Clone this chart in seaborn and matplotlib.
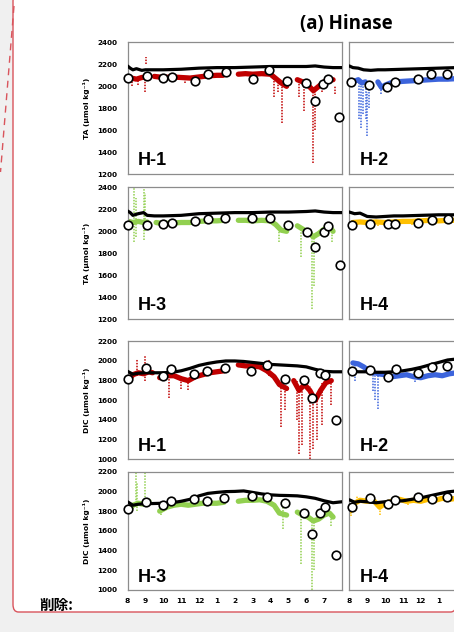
import matplotlib
matplotlib.use('Agg')
import matplotlib.pyplot as plt
from matplotlib.patches import FancyBboxPatch
from matplotlib.lines import Line2D
import pandas as pd
import seaborn as sns

# month axis: 0 = start of August, 12 = end of July
month_ticks = list(range(12))
month_labels = ['8', '9', '10', '11', '12', '1', '2', '3', '4', '5', '6', '7']

# ---------- TA, H-1 (red) ----------
h1_ta_model_x = [0, 0.15, 0.3, 0.5, 0.8, 1.0, 1.3, 2, 3, 4, 5, 6, 7, 8, 9, 10, 10.5, 11, 11.5, 12]
h1_ta_model_y = [2185, 2165, 2150, 2160, 2145, 2150, 2150, 2150, 2155, 2165, 2170, 2170, 2175, 2180,
                 2180, 2180, 2185, 2175, 2170, 2170]
h1_ta_segs = [
    ([0.2, 0.5, 0.8, 1.05], [2075, 2065, 2080, 2085]),
    ([1.5, 2.0, 2.5, 3.0, 3.5, 4.0, 4.5, 5.0, 5.35], [2090, 2080, 2085, 2080, 2075, 2085, 2095, 2100, 2100]),
    ([6.2, 6.6, 7.0, 7.5, 8.0, 8.3, 8.6, 8.9], [2110, 2115, 2110, 2115, 2110, 2070, 2030, 2000]),
    ([9.5, 9.8, 10.1, 10.4, 10.7, 11.0, 11.3, 11.5], [2060, 2040, 2010, 1960, 2000, 2040, 2060, 2060]),
]
h1_ta_spikes = [(0.25, 2000, 2090), (0.6, 2010, 2080), (1.0, 1950, 2080), (1.05, 2200, 2270),
                (2.0, 2030, 2080), (3.2, 2030, 2070), (8.2, 1900, 2090), (8.4, 1950, 2080),
                (8.65, 1670, 2020), (9.6, 1900, 2050), (9.9, 1780, 2030), (10.35, 1300, 1990),
                (10.5, 1600, 1980), (10.9, 1950, 2040), (11.6, 1930, 2000)]
h1_ta_obs_x = [0.05, 1.07, 2.0, 2.49, 3.77, 4.52, 5.49, 7.0, 7.92, 8.95, 10.0, 10.5, 10.96, 11.22, 11.85]
h1_ta_obs_y = [2075, 2090, 2075, 2085, 2050, 2110, 2130, 2070, 2145, 2050, 2030, 1870, 2020, 2070, 1720]

# ---------- TA, H-2 (blue) ----------
h2_ta_model_x = [0, 0.2, 0.5, 0.8, 1.2, 1.6, 2.0, 3, 4, 5, 6, 7, 8, 9, 10, 11, 12]
h2_ta_model_y = [2185, 2170, 2165, 2150, 2145, 2150, 2150, 2155, 2160, 2165, 2170, 2170, 2170, 2175,
                 2175, 2170, 2170]
h2_ta_segs = [
    ([0.35, 0.5, 0.7, 0.9], [2050, 2060, 2030, 2040]),
    ([1.6, 1.8, 2.0, 2.3, 2.6, 3.0, 3.5, 4.0, 4.5, 5.0, 5.5, 6.0],
     [2040, 1990, 2010, 2030, 2040, 2045, 2050, 2055, 2060, 2065, 2065, 2070]),
]
h2_ta_spikes = [(0.55, 1700, 2040), (0.65, 1620, 2030), (0.75, 1750, 2000), (0.95, 1700, 2000),
                (1.0, 1550, 1950), (1.1, 1800, 1980), (1.75, 1930, 2030), (2.0, 1960, 2030)]
h2_ta_obs_x = [0.1, 1.13, 2.1, 2.53, 3.85, 4.56, 5.47]
h2_ta_obs_y = [2041, 2012, 1994, 2041, 2063, 2108, 2108]

# ---------- TA, H-3 (green) ----------
h3_ta_model_x = [0, 0.15, 0.3, 0.6, 0.9, 1.1, 1.5, 2, 3, 4, 5, 6, 7, 8, 9, 10, 10.5, 11, 11.5, 12]
h3_ta_model_y = [2185, 2170, 2145, 2160, 2170, 2145, 2140, 2140, 2145, 2160, 2165, 2170, 2170, 2175,
                 2175, 2180, 2185, 2175, 2170, 2170]
h3_ta_segs = [
    ([0.05, 0.3, 0.6, 0.9, 1.1], [2090, 2080, 2090, 2080, 2085]),
    ([1.6, 2.0, 2.5, 3.0, 3.5, 4.0, 4.5, 5.0, 5.4], [2080, 2070, 2075, 2080, 2080, 2090, 2095, 2095, 2100]),
    ([6.2, 6.6, 7.0, 7.5, 8.0, 8.3, 8.6, 8.9], [2100, 2100, 2095, 2100, 2095, 2060, 2010, 2000]),
    ([9.5, 9.8, 10.1, 10.4, 10.7, 11.0, 11.3, 11.5], [2050, 2020, 1990, 1950, 1980, 2020, 2040, 2000]),
]
h3_ta_spikes = [(0.35, 1900, 2400), (0.45, 1950, 2300), (0.9, 1920, 2400), (1.0, 2000, 2350),
                (8.5, 1900, 2050), (9.7, 1770, 2030), (10.3, 1290, 1990), (10.45, 1500, 1950),
                (11.45, 1900, 2030)]
h3_ta_obs_x = [0.05, 1.07, 2.0, 2.5, 3.77, 4.52, 5.48, 6.99, 7.96, 8.98, 10.04, 10.49, 10.98, 11.22, 11.87]
h3_ta_obs_y = [2060, 2060, 2070, 2075, 2090, 2110, 2120, 2120, 2120, 2060, 1990, 1860, 1990, 2045, 1690]

# ---------- TA, H-4 (yellow) ----------
h4_ta_model_x = [0, 0.3, 0.6, 1.0, 1.5, 2.0, 2.5, 3, 4, 5, 6, 8, 10, 12]
h4_ta_model_y = [2175, 2160, 2165, 2135, 2130, 2135, 2140, 2140, 2145, 2150, 2150, 2155, 2160, 2160]
h4_ta_segs = [
    ([0.2, 0.6, 1.0, 1.5, 2.0, 2.5, 3.0, 3.5, 4.0, 4.5, 5.0, 5.5, 6.0],
     [2080, 2085, 2080, 2085, 2080, 2085, 2090, 2090, 2095, 2100, 2095, 2100, 2100]),
]
h4_ta_spikes = [(0.3, 2040, 2090), (1.6, 2050, 2090), (3.5, 2060, 2090), (4.7, 2070, 2100)]
h4_ta_obs_x = [0.15, 1.17, 2.14, 2.57, 3.87, 4.64, 5.5]
h4_ta_obs_y = [2060, 2070, 2070, 2065, 2080, 2100, 2115]

# ---------- DIC, H-1 (red) ----------
h1_dic_model_x = [0, 0.3, 0.6, 1.0, 2.0, 2.5, 3.0, 3.5, 4.0, 4.5, 5.0, 5.5, 6.0, 6.5, 7.0, 7.5, 8.0,
                  8.5, 9.0, 9.5, 10.0, 10.5, 11.0, 11.5, 12.0]
h1_dic_model_y = [1895, 1865, 1875, 1880, 1880, 1885, 1900, 1925, 1955, 1975, 1990, 2000, 2000, 1995,
                  1985, 1975, 1965, 1960, 1955, 1950, 1940, 1915, 1895, 1890, 1890]
h1_dic_segs = [
    ([0.05, 0.3, 0.6, 0.9, 1.2, 1.4], [1800, 1860, 1880, 1870, 1890, 1880]),
    ([1.8, 2.2, 2.6, 3.0, 3.4, 3.8, 4.2, 4.6, 5.0, 5.4], [1830, 1850, 1850, 1820, 1800, 1840, 1860, 1880, 1890, 1900]),
    ([6.2, 6.6, 7.0, 7.4, 7.8, 8.2, 8.5, 8.9], [1960, 1950, 1950, 1940, 1900, 1840, 1760, 1720]),
    ([9.3, 9.6, 9.9, 10.2, 10.5, 10.8, 11.1, 11.4], [1800, 1700, 1760, 1700, 1600, 1700, 1780, 1800]),
]
h1_dic_spikes = [(0.05, 1650, 1850), (0.55, 1850, 2020), (1.0, 1800, 2050), (2.3, 1620, 1850),
                 (3.0, 1720, 1850), (3.4, 1700, 1820), (7.9, 1850, 2020), (8.6, 1330, 1800),
                 (8.8, 1500, 1750), (9.5, 1400, 1800), (9.6, 1050, 1750), (9.75, 1150, 1700),
                 (10.2, 1000, 1750), (10.35, 1100, 1650), (10.6, 1200, 1650), (10.9, 1350, 1780),
                 (11.4, 1550, 1800)]
h1_dic_obs_x = [0.05, 1.05, 2.0, 2.43, 3.73, 4.44, 5.43, 6.92, 7.81, 8.83, 9.86, 10.3, 10.75, 11.07, 11.66]
h1_dic_obs_y = [1820, 1929, 1848, 1915, 1864, 1902, 1932, 1902, 1959, 1814, 1807, 1627, 1878, 1858, 1400]

# ---------- DIC, H-2 (blue) ----------
h2_dic_model_x = [0, 0.5, 1.0, 1.5, 2.0, 2.5, 3.0, 3.5, 4.0, 4.5, 5.0, 5.5, 6.0, 8, 10, 12]
h2_dic_model_y = [1900, 1890, 1890, 1885, 1885, 1890, 1900, 1915, 1935, 1960, 1985, 2010, 2020, 2020,
                  2000, 1990]
h2_dic_segs = [
    ([0.2, 0.5, 0.8, 1.1, 1.4], [1980, 1970, 1940, 1900, 1880]),
    ([1.6, 2.0, 2.4, 2.8, 3.2, 3.6, 4.0, 4.4, 4.8, 5.2, 5.6, 6.0],
     [1870, 1860, 1840, 1850, 1860, 1840, 1830, 1850, 1860, 1850, 1870, 1880]),
]
h2_dic_spikes = [(0.3, 1800, 1980), (1.3, 1690, 1900), (1.45, 1600, 1880), (1.6, 1510, 1850),
                 (2.1, 1790, 1870), (2.2, 1800, 1870), (3.7, 1790, 1850)]
h2_dic_obs_x = [0.15, 1.17, 2.14, 2.6, 3.87, 4.62, 5.46]
h2_dic_obs_y = [1894, 1911, 1842, 1921, 1876, 1935, 1946]

# ---------- DIC, H-3 (green) ----------
h3_dic_model_x = [0, 0.3, 0.6, 1.0, 2.0, 2.5, 3.0, 3.5, 4.0, 4.5, 5.0, 5.5, 6.0, 6.5, 7.0, 7.5, 8.0,
                  8.5, 9.0, 9.5, 10.0, 10.5, 11.0, 11.5, 12.0]
h3_dic_model_y = [1895, 1860, 1870, 1875, 1880, 1885, 1900, 1920, 1955, 1980, 1990, 1998, 2000, 2005,
                  1990, 1975, 1965, 1960, 1958, 1955, 1945, 1930, 1905, 1885, 1895]
h3_dic_segs = [
    ([0.05, 0.3, 0.6, 0.9, 1.2], [1800, 1860, 1880, 1870, 1900]),
    ([1.8, 2.2, 2.6, 3.0, 3.4, 3.8, 4.2, 4.6, 5.0, 5.4], [1800, 1840, 1860, 1870, 1860, 1870, 1880, 1880, 1880, 1890]),
    ([6.2, 6.6, 7.0, 7.4, 7.8, 8.2, 8.5, 8.9], [1900, 1910, 1910, 1915, 1900, 1860, 1780, 1760]),
    ([9.5, 9.8, 10.1, 10.4, 10.7, 11.0, 11.3, 11.5], [1790, 1760, 1740, 1700, 1720, 1760, 1780, 1740]),
]
h3_dic_spikes = [(0.05, 1700, 1850), (0.45, 1850, 2200), (0.55, 1800, 2100), (1.0, 1850, 2200),
                 (1.9, 1760, 1850), (8.7, 1620, 1850), (9.7, 1260, 1800), (10.3, 1000, 1700),
                 (10.45, 1200, 1700), (11.4, 1650, 1780)]
h3_dic_obs_x = [0.05, 1.04, 2.0, 2.41, 3.73, 4.45, 5.41, 6.94, 7.82, 8.82, 9.86, 10.3, 10.79, 11.07, 11.68]
h3_dic_obs_y = [1821, 1896, 1862, 1906, 1919, 1906, 1930, 1957, 1946, 1879, 1777, 1568, 1784, 1845, 1358]

# ---------- DIC, H-4 (yellow) ----------
h4_dic_model_x = [0, 0.3, 0.6, 1.0, 1.5, 2.0, 2.5, 3.0, 3.5, 4.0, 4.5, 5.0, 5.5, 6.0, 8, 10, 12]
h4_dic_model_y = [1915, 1890, 1900, 1895, 1885, 1895, 1900, 1905, 1920, 1935, 1955, 1975, 1995, 2005,
                  2010, 2000, 1990]
h4_dic_segs = [
    ([0.05, 0.3, 0.6, 1.0, 1.4, 1.7, 2.0, 2.4, 2.8, 3.2, 3.6, 4.0, 4.4, 4.8, 5.2, 5.6, 6.0],
     [1800, 1880, 1910, 1900, 1900, 1840, 1880, 1900, 1920, 1900, 1910, 1900, 1920, 1910, 1930, 1920, 1930]),
]
h4_dic_spikes = [(0.1, 1750, 1850), (0.45, 1870, 1950), (1.7, 1760, 1880), (3.3, 1860, 1910)]
h4_dic_obs_x = [0.15, 1.17, 2.14, 2.57, 3.87, 4.62, 5.46]
h4_dic_obs_y = [1837, 1929, 1875, 1915, 1939, 1925, 1943]

RED, BLUE, GREEN, YELLOW = '#c00000', '#3c64dc', '#92d050', '#ffc000'
SPINE = '#8c8c8c'

sns.set_style('white')
plt.rcParams['font.family'] = ['DejaVu Sans']
for key in ['text.color', 'axes.labelcolor', 'xtick.labelcolor', 'ytick.labelcolor']:
    plt.rcParams[key] = 'black'

fig = plt.figure(figsize=(4.54, 6.32), dpi=100)
fig.patch.set_facecolor('#f0f0f0')

# white page area with red revision border (right edge runs off the canvas)
W, H = 454.0, 632.0
page = FancyBboxPatch((13 / W, 20 / H), (456 - 13) / W, 612 / H + 0.01,
                      boxstyle='round,pad=0,rounding_size=0.012', transform=fig.transFigure,
                      facecolor='white', edgecolor='#d9545c', lw=1.0, zorder=-5)
fig.patches.append(page)
fig.lines.append(Line2D([14 / W, 0.5 / W], [1 - 6 / H, 1 - 172 / H], transform=fig.transFigure,
                        color='#d9545c', lw=1.0, ls=(0, (5, 4)), zorder=-4))


def draw_panel(rect, model_x, model_y, segs, spikes, obs_x, obs_y, color, name,
               ylim, yticks, ylabel=None, show_x=False, n_xlabels=12):
    ax = fig.add_axes(rect)
    ax.set_facecolor('white')
    seg_df = pd.DataFrame({
        'x': [x for xs, ys in segs for x in xs],
        'y': [y for xs, ys in segs for y in ys],
        'seg': [i for i, (xs, ys) in enumerate(segs) for _ in xs],
    })
    sns.lineplot(data=seg_df, x='x', y='y', units='seg', estimator=None, sort=False,
                 color=color, lw=3.8, ax=ax, zorder=2)
    ax.vlines([s[0] for s in spikes], [s[1] for s in spikes], [s[2] for s in spikes],
              color=color, lw=1.1, linestyles=(0, (1, 0.9)), zorder=2)
    sns.lineplot(x=model_x, y=model_y, color='black', lw=2.3, ax=ax, zorder=3)
    sns.scatterplot(x=obs_x, y=obs_y, s=38, color='white', edgecolor='black',
                    linewidth=1.2, ax=ax, zorder=4, clip_on=False)
    ax.set_xlim(0, 12)
    ax.set_ylim(*ylim)
    ax.set_yticks(yticks)
    ax.set_xticks(month_ticks)
    ax.tick_params(direction='in', length=2.5, width=0.7, color=SPINE, labelsize=5.2, pad=7.5)
    for sp in ax.spines.values():
        sp.set_color(SPINE)
        sp.set_linewidth(0.9)
    if ylabel:
        ax.set_yticklabels([str(t) for t in yticks], fontweight='bold')
        ax.set_ylabel(ylabel, fontsize=5.4, fontweight='bold')
        ax.yaxis.set_label_coords(-0.175, 0.5)
    else:
        ax.set_yticklabels([])
        ax.set_ylabel('')
    if show_x:
        shown = month_labels[:n_xlabels] + [''] * (12 - n_xlabels)
        ax.set_xticklabels(shown, fontweight='bold', fontsize=5.4)
        ax.tick_params(axis='x', pad=6)
    else:
        ax.set_xticklabels([])
    ax.set_xlabel('')
    ax.text(0.05, 0.068, name, transform=ax.transAxes, fontsize=13, fontweight='bold',
            family='Liberation Sans', va='baseline', ha='left', zorder=5)
    return ax


lx, rx, aw = 127.5 / W, 349.3 / W, 214.5 / W
rows = [((632 - 174.3) / H, 132 / H), ((632 - 319.3) / H, 132 / H),
        ((632 - 459.3) / H, 118 / H), ((632 - 590) / H, 118.3 / H)]
ta_ticks = list(range(1200, 2401, 200))
dic_ticks = list(range(1000, 2201, 200))
ta_label = 'TA (µmol kg⁻¹)'
dic_label = 'DIC (µmol kg⁻¹)'

draw_panel([lx, rows[0][0], aw, rows[0][1]], h1_ta_model_x, h1_ta_model_y, h1_ta_segs, h1_ta_spikes,
           h1_ta_obs_x, h1_ta_obs_y, RED, 'H-1', (1200, 2400), ta_ticks, ta_label)
draw_panel([rx, rows[0][0], aw, rows[0][1]], h2_ta_model_x, h2_ta_model_y, h2_ta_segs, h2_ta_spikes,
           h2_ta_obs_x, h2_ta_obs_y, BLUE, 'H-2', (1200, 2400), ta_ticks)
draw_panel([lx, rows[1][0], aw, rows[1][1]], h3_ta_model_x, h3_ta_model_y, h3_ta_segs, h3_ta_spikes,
           h3_ta_obs_x, h3_ta_obs_y, GREEN, 'H-3', (1200, 2400), ta_ticks, ta_label)
draw_panel([rx, rows[1][0], aw, rows[1][1]], h4_ta_model_x, h4_ta_model_y, h4_ta_segs, h4_ta_spikes,
           h4_ta_obs_x, h4_ta_obs_y, YELLOW, 'H-4', (1200, 2400), ta_ticks)
draw_panel([lx, rows[2][0], aw, rows[2][1]], h1_dic_model_x, h1_dic_model_y, h1_dic_segs, h1_dic_spikes,
           h1_dic_obs_x, h1_dic_obs_y, RED, 'H-1', (1000, 2200), dic_ticks, dic_label)
draw_panel([rx, rows[2][0], aw, rows[2][1]], h2_dic_model_x, h2_dic_model_y, h2_dic_segs, h2_dic_spikes,
           h2_dic_obs_x, h2_dic_obs_y, BLUE, 'H-2', (1000, 2200), dic_ticks)
draw_panel([lx, rows[3][0], aw, rows[3][1]], h3_dic_model_x, h3_dic_model_y, h3_dic_segs, h3_dic_spikes,
           h3_dic_obs_x, h3_dic_obs_y, GREEN, 'H-3', (1000, 2200), dic_ticks, dic_label, show_x=True)
draw_panel([rx, rows[3][0], aw, rows[3][1]], h4_dic_model_x, h4_dic_model_y, h4_dic_segs, h4_dic_spikes,
           h4_dic_obs_x, h4_dic_obs_y, YELLOW, 'H-4', (1000, 2200), dic_ticks, show_x=True, n_xlabels=6)

fig.text(346 / W, 1 - 24 / H, '(a) Hinase', fontsize=13.5, fontweight='bold', family='Open Sans',
         ha='center', va='center')
fig.text(39 / W, 1 - 605 / H, '削除:', fontsize=10.5, fontweight='bold',
         family=['Noto Sans CJK JP', 'DejaVu Sans'], ha='left', va='center')

fig.savefig('out.png', dpi=100, facecolor=fig.get_facecolor())
